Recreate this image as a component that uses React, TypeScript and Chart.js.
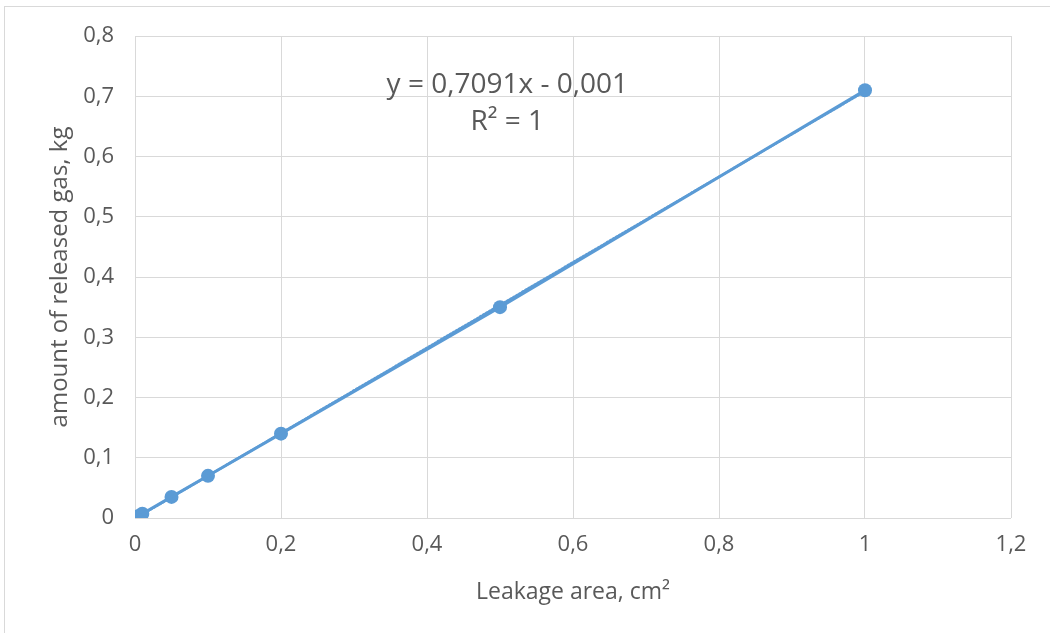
import React, { useEffect, useRef } from "react";
import { Chart, registerables } from "chart.js";

Chart.register(...registerables);

const leakageArea = [0.005, 0.01, 0.05, 0.1, 0.2, 0.5, 1];
const releasedGas = [0.0035, 0.007, 0.035, 0.07, 0.14, 0.35, 0.71];
const trendSlope = 0.7091;
const trendIntercept = -0.001;
const trendRange = [0.005, 1];
const equationText = "y = 0,7091x - 0,001";
const r2Text = "R² = 1";
const xTitle = "Leakage area, cm²";
const yTitle = "amount of released gas, kg";

const BLUE = "#5B9BD5";
const GRID = "#D9D9D9";
const TEXT = "#595959";
const FONT = "'Open Sans', sans-serif";

const fmt = (v: number) => {
  const n = Number(Number(v).toFixed(1));
  return String(n).replace(".", ",");
};

const equationPlugin = {
  id: "equationLabel",
  afterDatasetsDraw(chart: any) {
    const { ctx, scales } = chart;
    const x = scales.x.getPixelForValue(0.51);
    ctx.save();
    ctx.fillStyle = TEXT;
    ctx.textAlign = "center";
    ctx.textBaseline = "middle";
    ctx.font = `28px ${FONT}`;
    ctx.fillText(equationText, x, scales.y.getPixelForValue(0.719));
    ctx.fillText(r2Text, x, scales.y.getPixelForValue(0.657));
    ctx.restore();
  },
};

export default function App() {
  const ref = useRef<HTMLCanvasElement | null>(null);
  useEffect(() => {
    if (!ref.current) return;
    const points = leakageArea.map((x, i) => ({ x, y: releasedGas[i] }));
    const trend = trendRange.map((x) => ({ x, y: trendSlope * x + trendIntercept }));
    const chart = new Chart(ref.current, {
      type: "scatter",
      data: {
        datasets: [
          {
            data: trend,
            showLine: true,
            borderColor: BLUE,
            borderWidth: 2.5,
            borderDash: [1.5, 2],
            borderCapStyle: "round",
            pointRadius: 0,
            fill: false,
          },
          {
            data: points,
            showLine: true,
            borderColor: BLUE,
            backgroundColor: BLUE,
            borderWidth: 3,
            pointRadius: 7,
            pointBorderWidth: 0,
            pointBackgroundColor: BLUE,
            fill: false,
          },
        ],
      },
      options: {
        animation: false,
        responsive: false,
        maintainAspectRatio: false,
        layout: { padding: { left: 46, top: 36, right: 39, bottom: 27 } },
        plugins: { legend: { display: false }, tooltip: { enabled: false } },
        scales: {
          x: {
            type: "linear",
            min: 0,
            max: 1.2,
            ticks: {
              stepSize: 0.2,
              color: TEXT,
              font: { family: FONT, size: 22 },
              padding: 14,
              callback: (v: any) => fmt(v),
            },
            grid: { color: GRID, lineWidth: 1, drawTicks: false },
            border: { display: false },
            title: {
              display: true,
              text: xTitle,
              color: TEXT,
              font: { family: FONT, size: 23 },
              padding: { top: 0, bottom: 0 },
            },
            afterFit: (s: any) => {
              s.height = 88;
            },
          },
          y: {
            type: "linear",
            min: 0,
            max: 0.8,
            ticks: {
              stepSize: 0.1,
              color: TEXT,
              font: { family: FONT, size: 22 },
              padding: 21,
              callback: (v: any) => fmt(v),
            },
            grid: { color: GRID, lineWidth: 1, drawTicks: false },
            border: { display: false },
            title: {
              display: true,
              text: yTitle,
              color: TEXT,
              font: { family: FONT, size: 24 },
              padding: { top: 0, bottom: 0 },
            },
            afterFit: (s: any) => {
              s.width = 89;
            },
          },
        },
      },
      plugins: [equationPlugin],
    });
    return () => chart.destroy();
  }, []);

  return (
    <div style={{ position: "fixed", left: 0, top: 0, width: 1050, height: 633, background: "#fff", overflow: "hidden" }}>
      <div
        style={{
          position: "absolute",
          left: 4,
          top: 6,
          width: 1060,
          height: 640,
          border: `1px solid ${GRID}`,
          boxSizing: "border-box",
        }}
      />
      <canvas ref={ref} width={1050} height={633} style={{ position: "absolute", left: 0, top: 0 }} />
    </div>
  );
}
